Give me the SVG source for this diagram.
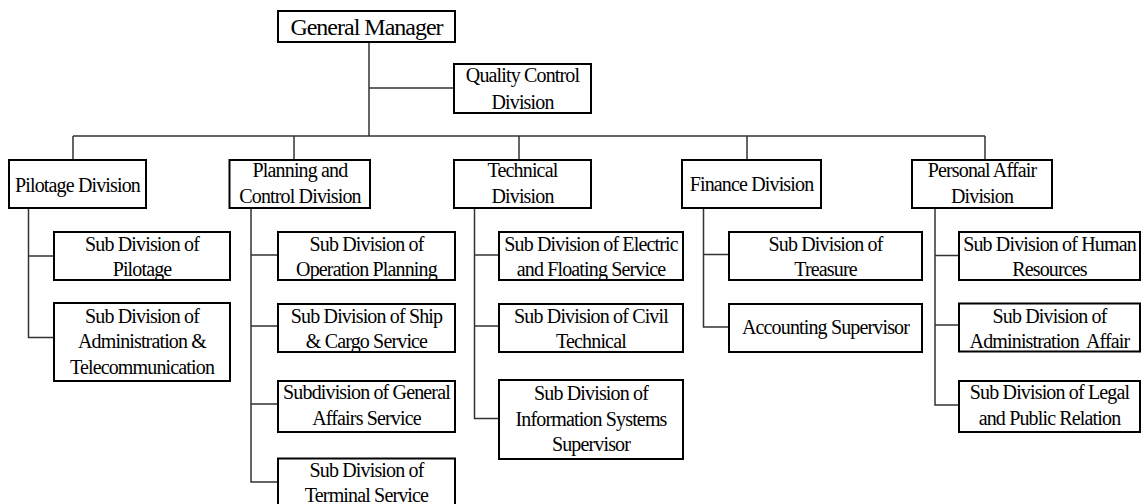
<svg xmlns="http://www.w3.org/2000/svg" width="1142" height="504" viewBox="0 0 1142 504">
  <style>
    .box { fill: #fff; stroke: #000; stroke-width: 2; }
    .conn { fill: none; stroke: #333; stroke-width: 1.5; }
    .lbl text { font-family: "Liberation Serif", "Times New Roman", serif; font-size: 20px; letter-spacing: -0.85px; text-anchor: middle; fill: #000; }
    .lbl text.top { font-size: 24px; letter-spacing: -1px; }
  </style>
  <rect width="1142" height="504" fill="#fff"/>

  <!-- connectors -->
  <g id="connectors" class="conn">
    <!-- General Manager trunk and Quality Control branch -->
    <path d="M369 42 V136 M369 88 H454"/>
    <!-- division bus and drops -->
    <path d="M73 136 H985 M73 136 V160 M294 136 V160 M519 136 V160 M747 136 V160 M985 136 V160"/>
    <!-- Pilotage -->
    <path d="M28.5 208 V337.5 H54 M28.5 256 H54"/>
    <!-- Planning and Control -->
    <path d="M251 208 V482 H278 M251 255 H278 M251 326 H278 M251 404 H278"/>
    <!-- Technical -->
    <path d="M474.5 208 V418.5 H499 M474.5 255 H499 M474.5 326 H499"/>
    <!-- Finance -->
    <path d="M703.5 208 V327 H729 M703.5 254.5 H729"/>
    <!-- Personal Affair -->
    <path d="M935 208 V405 H959 M935 255.5 H959 M935 325 H959"/>
  </g>

  <g class="lbl">
  <!-- top level -->
  <g id="general-manager">
    <rect class="box" x="278" y="11" width="177" height="31"/>
    <text class="top" x="366.5" y="35">General Manager</text>
  </g>
  <g id="quality-control">
    <rect class="box" x="454" y="64" width="137" height="49"/>
    <text x="522.5" y="82">Quality Control</text>
    <text x="522.5" y="108.5">Division</text>
  </g>

  <!-- divisions -->
  <g id="pilotage-division">
    <rect class="box" x="9" y="160" width="137" height="48"/>
    <text x="77.5" y="191.5">Pilotage Division</text>
  </g>
  <g id="planning-division">
    <rect class="box" x="229.5" y="160" width="140.5" height="48"/>
    <text x="300" y="177">Planning and</text>
    <text x="300" y="203">Control Division</text>
  </g>
  <g id="technical-division">
    <rect class="box" x="454" y="160" width="137" height="48"/>
    <text x="522.5" y="177">Technical</text>
    <text x="522.5" y="203">Division</text>
  </g>
  <g id="finance-division">
    <rect class="box" x="682" y="160" width="139" height="48"/>
    <text x="751.5" y="191">Finance Division</text>
  </g>
  <g id="personal-division">
    <rect class="box" x="912" y="160" width="140" height="48"/>
    <text x="982" y="177">Personal Affair</text>
    <text x="982" y="203">Division</text>
  </g>

  <!-- Pilotage sub divisions -->
  <g id="sub-pilotage">
    <rect class="box" x="54" y="232" width="176" height="48"/>
    <text x="142" y="251">Sub Division of</text>
    <text x="142" y="276">Pilotage</text>
  </g>
  <g id="sub-admin-telecom">
    <rect class="box" x="54" y="303" width="176" height="78"/>
    <text x="142" y="322.5">Sub Division of</text>
    <text x="142" y="348">Administration &amp;</text>
    <text x="142" y="373.5">Telecommunication</text>
  </g>

  <!-- Planning and Control sub divisions -->
  <g id="sub-operation">
    <rect class="box" x="278" y="232" width="177" height="48"/>
    <text x="366.5" y="251">Sub Division of</text>
    <text x="366.5" y="276">Operation Planning</text>
  </g>
  <g id="sub-ship-cargo">
    <rect class="box" x="278" y="304" width="177" height="48"/>
    <text x="366.5" y="323">Sub Division of Ship</text>
    <text x="366.5" y="348">&amp; Cargo Service</text>
  </g>
  <g id="sub-general-affairs">
    <rect class="box" x="278" y="381" width="177" height="51"/>
    <text x="366.5" y="399">Subdivision of General</text>
    <text x="366.5" y="425">Affairs Service</text>
  </g>
  <g id="sub-terminal">
    <rect class="box" x="278" y="458.5" width="177" height="60"/>
    <text x="366.5" y="477">Sub Division of</text>
    <text x="366.5" y="501.5">Terminal Service</text>
  </g>

  <!-- Technical sub divisions -->
  <g id="sub-electric">
    <rect class="box" x="499" y="232" width="184" height="48"/>
    <text x="591" y="251">Sub Division of Electric</text>
    <text x="591" y="276">and Floating Service</text>
  </g>
  <g id="sub-civil">
    <rect class="box" x="499" y="304" width="184" height="48"/>
    <text x="591" y="323">Sub Division of Civil</text>
    <text x="591" y="348">Technical</text>
  </g>
  <g id="sub-information">
    <rect class="box" x="499" y="380" width="184" height="79"/>
    <text x="591" y="400">Sub Division of</text>
    <text x="591" y="425.5">Information Systems</text>
    <text x="591" y="451">Supervisor</text>
  </g>

  <!-- Finance sub divisions -->
  <g id="sub-treasure">
    <rect class="box" x="729" y="232" width="193" height="48"/>
    <text x="825.5" y="251">Sub Division of</text>
    <text x="825.5" y="276">Treasure</text>
  </g>
  <g id="accounting">
    <rect class="box" x="729" y="304" width="193" height="48"/>
    <text x="825.5" y="334">Accounting Supervisor</text>
  </g>

  <!-- Personal Affair sub divisions -->
  <g id="sub-human">
    <rect class="box" x="959" y="232" width="181" height="48"/>
    <text x="1049.5" y="251">Sub Division of Human</text>
    <text x="1049.5" y="276">Resources</text>
  </g>
  <g id="sub-admin-affair">
    <rect class="box" x="959" y="303.5" width="181" height="48"/>
    <text x="1049.5" y="323">Sub Division of</text>
    <text x="1049.5" y="347.5" xml:space="preserve">Administration  Affair</text>
  </g>
  <g id="sub-legal">
    <rect class="box" x="959" y="381" width="181" height="51"/>
    <text x="1049.5" y="399">Sub Division of Legal</text>
    <text x="1049.5" y="425">and Public Relation</text>
  </g>
  </g>
</svg>
